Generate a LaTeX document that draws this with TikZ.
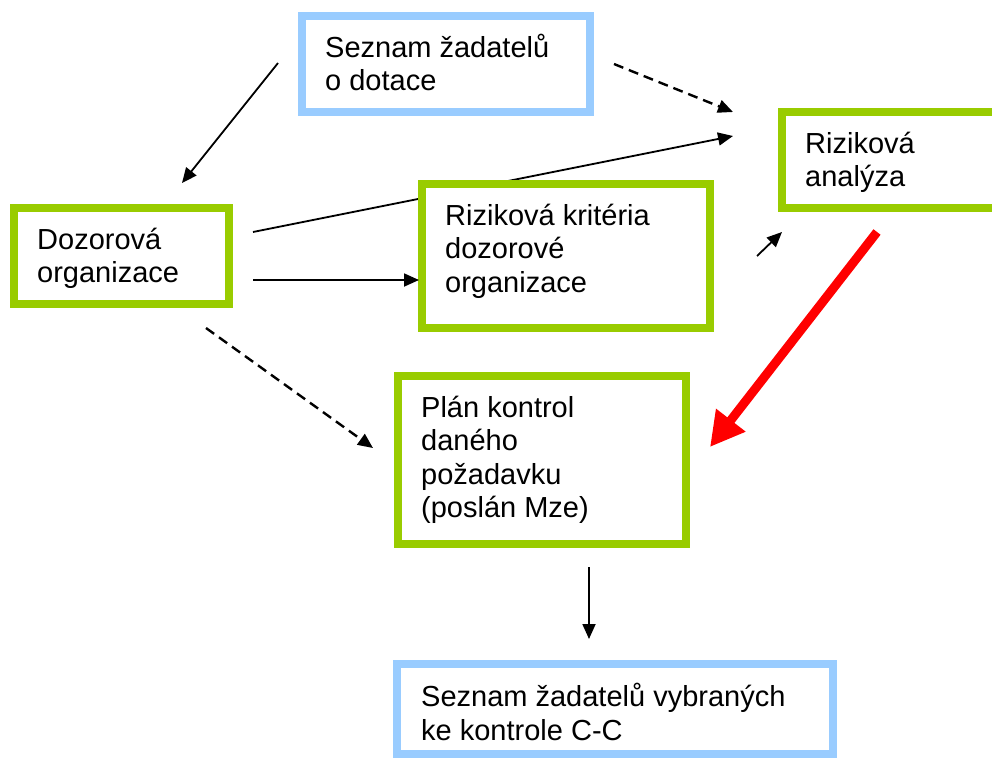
\documentclass[tikz,border=0pt]{standalone}
\usepackage{fontspec}
\setmainfont{Liberation Sans}
\usetikzlibrary{arrows.meta}
\definecolor{boxblue}{HTML}{99CCFF}
\definecolor{boxgreen}{HTML}{99CC00}
\definecolor{arrred}{HTML}{FF0000}
\begin{document}
\begin{tikzpicture}[x=1pt,y=-1pt,
  bluebox/.style={draw=boxblue, line width=8pt, fill=white, inner sep=0pt},
  greenbox/.style={draw=boxgreen, line width=8pt, fill=white, inner sep=0pt},
  txt/.style={anchor=north west, inner sep=0pt, align=left, font=\fontsize{29}{33.5}\selectfont},
  arr/.style={line width=1.8pt, -{Triangle[length=15pt,width=13pt]}},
  darr/.style={line width=2.4pt, dash pattern=on 10pt off 6pt, -{Triangle[length=15pt,width=13pt]}},
  redarr/.style={draw=arrred, line width=9pt, -{Triangle[length=34pt,width=35pt]}}]
\useasboundingbox (0,0) rectangle (992,758);
\clip (0,0) rectangle (992,758);
\fill[white] (0,0) rectangle (992,758);

% connector ends
\coordinate (sd1) at (278,63);  \coordinate (sd2) at (182,183);
\coordinate (sa1) at (614,64);  \coordinate (sa2) at (733,112);
\coordinate (da1) at (253,232); \coordinate (da2) at (733,136);
\coordinate (dk1) at (253,280); \coordinate (dk2) at (419,280);
\coordinate (ka1) at (757,256); \coordinate (ka2) at (782,232);
\coordinate (ap1) at (877,232); \coordinate (ap2) at (710,447);
\coordinate (dp1) at (206,328); \coordinate (dp2) at (373,448);
\coordinate (ps1) at (589,567); \coordinate (ps2) at (589,639);

% connector passing behind the criteria box
\draw[arr] (da1) -- (da2);

% boxes
\node[bluebox, minimum width=288pt, minimum height=96pt] (s1) at (446,64) {};
\node[greenbox, minimum width=215pt, minimum height=96pt] (d) at (121.5,256) {};
\node[greenbox, minimum width=288pt, minimum height=144pt] (k) at (566,256) {};
\node[greenbox, minimum width=318pt, minimum height=96pt] (a) at (941,160) {};
\node[greenbox, minimum width=288pt, minimum height=168pt] (p) at (542,460) {};
\node[bluebox, minimum width=436pt, minimum height=90pt] (s2) at (615,709) {};

% texts
\node[txt] (s1t) at (325,33.5) {\strut Seznam žadatelů\\o dotace};
\node[txt] (dt) at (37,225.5) {\strut Dozorová\\organizace};
\node[txt] (kt) at (445,201.5) {\strut Riziková kritéria\\dozorové\\organizace};
\node[txt] (at) at (805,129.5) {\strut Riziková\\analýza};
\node[txt] (pt) at (421,393.5) {\strut Plán kontrol\\daného\\požadavku\\(poslán Mze)};
\node[txt] (s2t) at (421,683) {\strut Seznam žadatelů vybraných\\ke kontrole C-C};

% other connectors
\draw[arr] (sd1) -- (sd2);
\draw[darr] (sa1) -- (sa2);
\draw[arr] (dk1) -- (dk2);
\draw[arr] (ka1) -- (ka2);
\draw[darr] (dp1) -- (dp2);
\draw[arr] (ps1) -- (ps2);
\draw[redarr] (ap1) -- (ap2);
\end{tikzpicture}
\end{document}
